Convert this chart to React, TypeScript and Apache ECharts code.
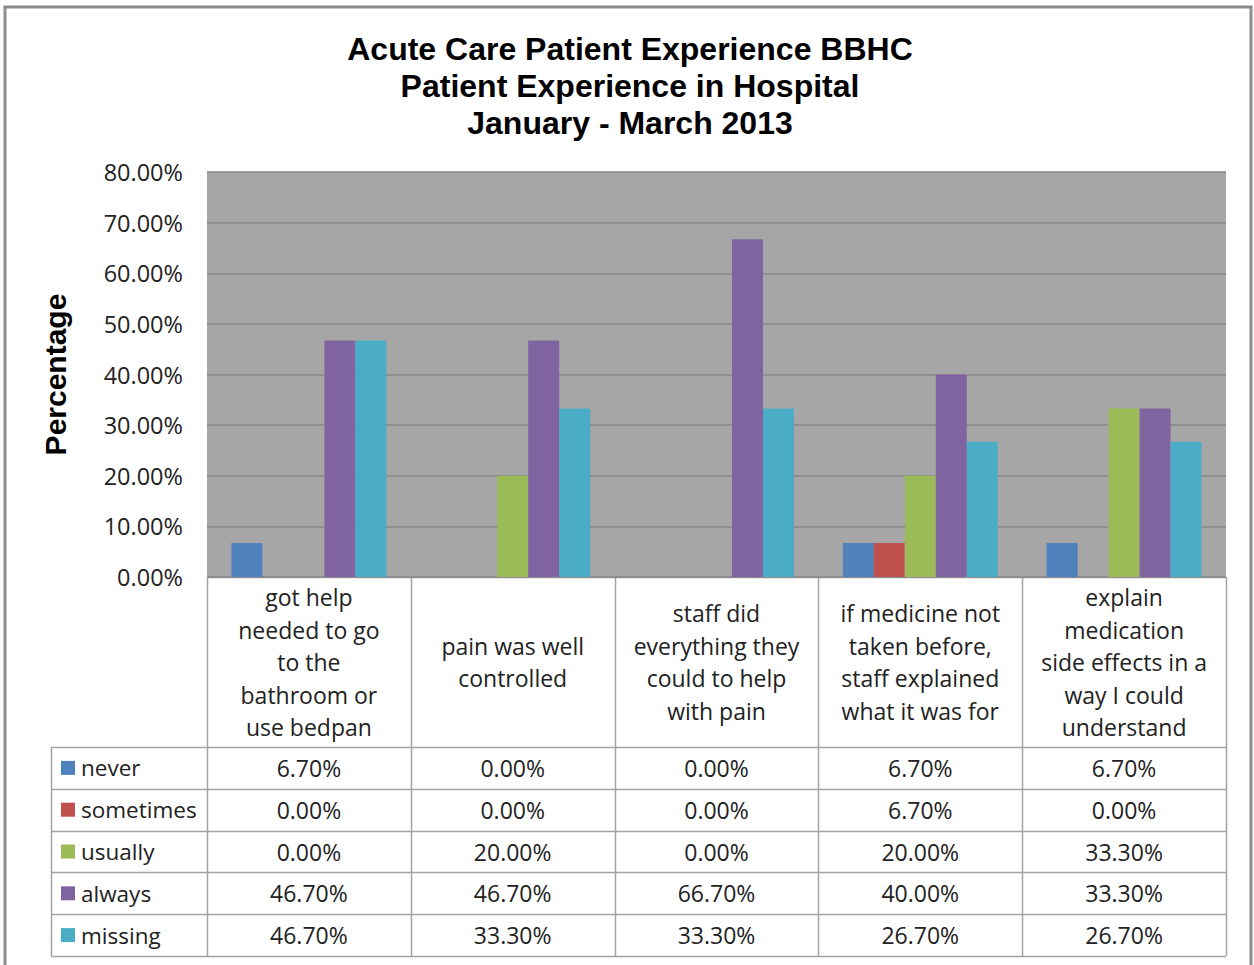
import React, { useEffect, useRef } from "react";
import * as echarts from "echarts";

const titleLines = [
  "Acute Care Patient Experience BBHC",
  "Patient Experience in Hospital",
  "January - March 2013",
];
const categories = [
  "got help\nneeded to go\nto the\nbathroom or\nuse bedpan",
  "pain was well\ncontrolled",
  "staff did\neverything they\ncould to help\nwith pain",
  "if medicine not\ntaken before,\nstaff explained\nwhat it was for",
  "explain\nmedication\nside effects in a\nway I could\nunderstand",
];
const seriesNames = ["never", "sometimes", "usually", "always", "missing"];
const never = [6.7, 0, 0, 6.7, 6.7];
const sometimes = [0, 0, 0, 6.7, 0];
const usually = [0, 20, 0, 20, 33.3];
const always = [46.7, 46.7, 66.7, 40, 33.3];
const missing = [46.7, 33.3, 33.3, 26.7, 26.7];
const seriesValues = [never, sometimes, usually, always, missing];
const colors = ["#4f81bd", "#c0504d", "#9bbb59", "#8064a2", "#4bacc6"];
const yMin = 0;
const yMax = 80;
const yInterval = 10;

const W = 1254;
const H = 965;
const GRID_L = 207;
const GRID_T = 172;
const GRID_W = 1019;
const GRID_H = 405;
const LEG_L = 51;
const HEADER_B = 747;
const ROW_H = 41.8;
const LINE_C = "#a3a3a3";
const TXT = "Open Sans";
const TXT_C = "#222";

export default function App() {
  const ref = useRef<HTMLDivElement>(null);
  useEffect(() => {
    document.body.style.margin = "0";
    if (!ref.current) return;
    const chart = echarts.init(ref.current, null, { renderer: "svg" });
    const colW = GRID_W / categories.length;
    const gridB = GRID_T + GRID_H;
    const tableB = HEADER_B + ROW_H * seriesNames.length;
    const graphics: any[] = [];
    graphics.push({
      type: "polyline",
      shape: { points: [[5, H + 20], [5, 7], [1251, 7], [1251, H + 20]] },
      style: { stroke: "#8c8c8c", lineWidth: 3, fill: null },
      silent: true,
    });
    for (let i = 0; i <= categories.length; i++) {
      const x = Math.round(GRID_L + i * colW) + 0.5;
      graphics.push({
        type: "line",
        shape: { x1: x, y1: gridB, x2: x, y2: tableB },
        style: { stroke: LINE_C, lineWidth: 1.5 },
        silent: true,
      });
    }
    graphics.push({
      type: "line",
      shape: { x1: LEG_L + 0.5, y1: HEADER_B, x2: LEG_L + 0.5, y2: tableB },
      style: { stroke: LINE_C, lineWidth: 1.5 },
      silent: true,
    });
    graphics.push({
      type: "line",
      shape: { x1: GRID_L, y1: gridB + 0.5, x2: GRID_L + GRID_W, y2: gridB + 0.5 },
      style: { stroke: LINE_C, lineWidth: 1.5 },
      silent: true,
    });
    for (let r = 0; r <= seriesNames.length; r++) {
      const y = Math.round(HEADER_B + r * ROW_H) + 0.5;
      graphics.push({
        type: "line",
        shape: { x1: LEG_L, y1: y, x2: GRID_L + GRID_W, y2: y },
        style: { stroke: LINE_C, lineWidth: 1.5 },
        silent: true,
      });
    }
    categories.forEach((c, i) => {
      graphics.push({
        type: "text",
        x: GRID_L + (i + 0.5) * colW,
        y: (gridB + HEADER_B) / 2,
        style: {
          text: c,
          fontFamily: TXT,
          fontSize: 23,
          lineHeight: 32.5,
          fill: TXT_C,
          align: "center",
          verticalAlign: "middle",
        },
        silent: true,
      });
    });
    seriesNames.forEach((name, r) => {
      const cy = HEADER_B + (r + 0.5) * ROW_H;
      graphics.push({
        type: "rect",
        shape: { x: 61, y: cy - 7, width: 14, height: 14 },
        style: { fill: colors[r] },
        silent: true,
      });
      graphics.push({
        type: "text",
        x: 81,
        y: cy,
        style: {
          text: name,
          fontFamily: TXT,
          fontSize: 22.5,
          fill: TXT_C,
          align: "left",
          verticalAlign: "middle",
        },
        silent: true,
      });
      seriesValues[r].forEach((v, i) => {
        graphics.push({
          type: "text",
          x: GRID_L + (i + 0.5) * colW,
          y: cy,
          style: {
            text: v.toFixed(2) + "%",
            fontFamily: TXT,
            fontSize: 23,
            fill: TXT_C,
            align: "center",
            verticalAlign: "middle",
          },
          silent: true,
        });
      });
    });

    chart.setOption({
      animation: false,
      backgroundColor: "#ffffff",
      title: {
        text: titleLines.join("\n"),
        left: 625,
        textAlign: "center",
        top: 25,
        textStyle: {
          fontFamily: "Liberation Sans",
          fontWeight: "bold",
          fontSize: 32,
          lineHeight: 37,
          color: "#000",
        },
      },
      grid: {
        left: GRID_L,
        top: GRID_T,
        width: GRID_W,
        height: GRID_H,
        show: true,
        backgroundColor: "#a6a6a6",
        borderWidth: 0,
        containLabel: false,
      },
      xAxis: {
        type: "category",
        data: categories,
        axisLabel: { show: false },
        axisTick: { show: false },
        axisLine: { show: false },
      },
      yAxis: {
        type: "value",
        min: yMin,
        max: yMax,
        interval: yInterval,
        name: "Percentage",
        nameLocation: "middle",
        nameRotate: 90,
        nameGap: 137,
        nameTextStyle: {
          fontFamily: "Liberation Sans",
          fontWeight: "bold",
          fontSize: 30,
          color: "#000",
        },
        axisLabel: {
          formatter: (v: number) => v.toFixed(2) + "%",
          fontFamily: TXT,
          fontSize: 23.5,
          color: TXT_C,
          margin: 24,
        },
        axisLine: { show: false },
        axisTick: { show: false },
        splitLine: { lineStyle: { color: "#878787", width: 1.5 } },
      },
      series: seriesNames.map((name, i) => ({
        name,
        type: "bar",
        data: seriesValues[i],
        itemStyle: { color: colors[i] },
        barGap: "0%",
        barCategoryGap: "24%",
      })),
      graphic: graphics,
    });
    return () => chart.dispose();
  }, []);
  return <div ref={ref} style={{ width: W, height: H }} />;
}
